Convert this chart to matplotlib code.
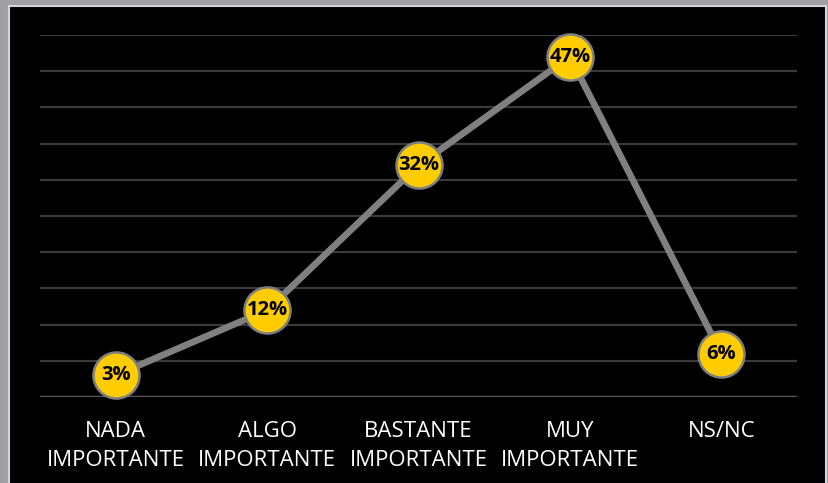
import matplotlib
matplotlib.use("Agg")
import matplotlib.pyplot as plt
from matplotlib.patches import Rectangle

categories = ["NADA\nIMPORTANTE", "ALGO\nIMPORTANTE", "BASTANTE\nIMPORTANTE", "MUY\nIMPORTANTE", "NS/NC"]
values = [3, 12, 32, 47, 6]
labels = ["3%", "12%", "32%", "47%", "6%"]

W, H = 829, 483
fig = plt.figure(figsize=(W/100, H/100), dpi=100)
fig.patch.set_facecolor("#a0a0a4")

# black panel with light inner border
fig.patches.append(Rectangle((9/W, -0.01), (826-9)/W, (H-6)/H + 0.01, transform=fig.transFigure,
                             facecolor="black", edgecolor="#d4d4d8", linewidth=1.5, zorder=-10))

ax = fig.add_axes([40/W, (H-397)/H, 757/W, (397-35)/H])
ax.set_facecolor("black")
ax.patch.set_alpha(0)
x = list(range(len(categories)))
ax.set_xlim(-0.5, len(categories)-0.5)
ax.set_ylim(0, 50)
ax.set_yticks(range(5, 51, 5))
ax.yaxis.grid(True, color="#3a3a3a", linewidth=1.6)
ax.axhline(0, color="#595959", linewidth=2.5, zorder=1)
ax.set_axisbelow(True)
for s in ax.spines.values():
    s.set_visible(False)
ax.tick_params(axis="y", left=False, labelleft=False)
ax.tick_params(axis="x", bottom=False, pad=14)
ax.set_xticks(x)
ax.set_xticklabels(categories, color="white", fontsize=16, family="Open Sans", linespacing=1.5)

ax.plot(x, values, color="#808080", linewidth=4.8, zorder=2, clip_on=False)
ax.scatter(x, values, s=46**2*0.52, color="#FFCC00", edgecolors="#7f7f7f", linewidths=1.8,
           zorder=3, clip_on=False)
for xi, v, lab in zip(x, values, labels):
    ax.text(xi, v, lab, ha="center", va="center", fontsize=14.5, fontweight="bold",
            color="black", family="Open Sans", zorder=4)

fig.savefig("out.png", dpi=100, facecolor=fig.get_facecolor())
